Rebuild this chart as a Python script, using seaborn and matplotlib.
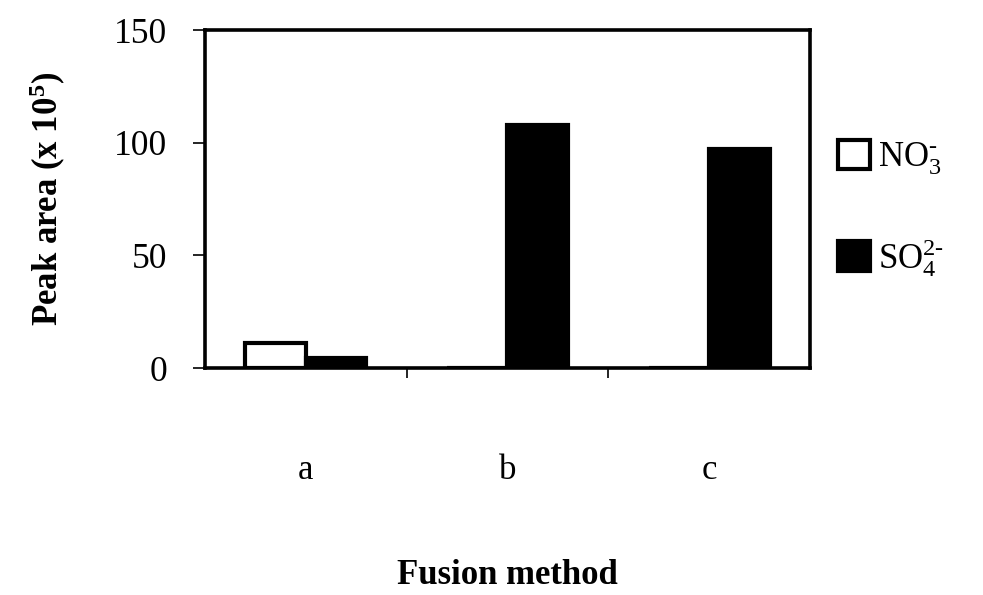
import matplotlib
matplotlib.use("Agg")
import matplotlib.pyplot as plt
import seaborn as sns
import pandas as pd
from matplotlib.patches import Patch

# Data
methods = ["a", "b", "c"]
no3_values = [11, 0, 0]
so4_values = [4.5, 108, 97]
ion_labels = [r"$\mathregular{NO_3^{\text{-}}}$", r"$\mathregular{SO_4^{\text{2-}}}$"]
y_ticks = [0, 50, 100, 150]

df = pd.DataFrame({
    "method": methods * 2,
    "value": no3_values + so4_values,
    "ion": ["NO3"] * len(methods) + ["SO4"] * len(methods),
})

sns.set_style("ticks")
plt.rcParams["font.family"] = ["Liberation Serif", "DejaVu Serif"]
plt.rcParams["mathtext.fontset"] = "custom"
plt.rcParams["mathtext.rm"] = "Liberation Serif"
plt.rcParams["mathtext.bf"] = "Liberation Serif:bold"
plt.rcParams["mathtext.it"] = "Liberation Serif:italic"
plt.rcParams["text.color"] = "black"
plt.rcParams["axes.labelcolor"] = "black"
plt.rcParams["xtick.color"] = "black"
plt.rcParams["ytick.color"] = "black"

fig = plt.figure(figsize=(9.83, 5.95), dpi=100)
ax = fig.add_axes([0.2085, 0.3815, 0.6155, 0.568])

sns.barplot(data=df, x="method", y="value", hue="ion",
            palette=["white", "black"], edgecolor="black", linewidth=3,
            width=0.6, ax=ax, legend=False, saturation=1)

ax.set_xlim(-0.5, 2.5)
ax.set_ylim(0, 150)
ax.set_yticks(y_ticks)
ax.set_yticklabels([str(t) for t in y_ticks])
ax.tick_params(axis="y", direction="out", length=9, width=1.2, pad=18,
               labelsize=25.5, color="black", labelcolor="black")

# major x ticks between groups, labels as minor ticks at centers
ax.set_xticks([0.5, 1.5])
ax.set_xticklabels([])
ax.set_xticks([0, 1, 2], minor=True)
ax.set_xticklabels(methods, minor=True)
ax.tick_params(axis="x", which="major", direction="out", length=7, width=1.2,
               color="black")
ax.tick_params(axis="x", which="minor", length=0, pad=62, labelsize=25,
               labelcolor="black")

for s in ax.spines.values():
    s.set_visible(True)
    s.set_linewidth(2.6)
    s.set_color("black")

ax.set_xlabel("Fusion method", fontsize=25, fontweight="bold", color="black")
ax.xaxis.set_label_coords(0.5, -0.565)
ax.set_ylabel(r"Peak area (x 10$^{\mathbf{5}}$)", fontsize=25, fontweight="bold",
              color="black")
ax.yaxis.set_label_coords(-0.227, 0.5)

handles = [Patch(facecolor="white", edgecolor="black", linewidth=3),
           Patch(facecolor="black", edgecolor="black", linewidth=3)]
leg = ax.legend(handles, ion_labels, loc="center left", bbox_to_anchor=(1.046, 0.47),
                frameon=False, fontsize=25, handlelength=0.92, handleheight=0.92,
                handletextpad=0.25, labelspacing=1.72, borderpad=0, borderaxespad=0)
for t in leg.get_texts():
    t.set_color("black")

fig.savefig("out.png", dpi=100)
